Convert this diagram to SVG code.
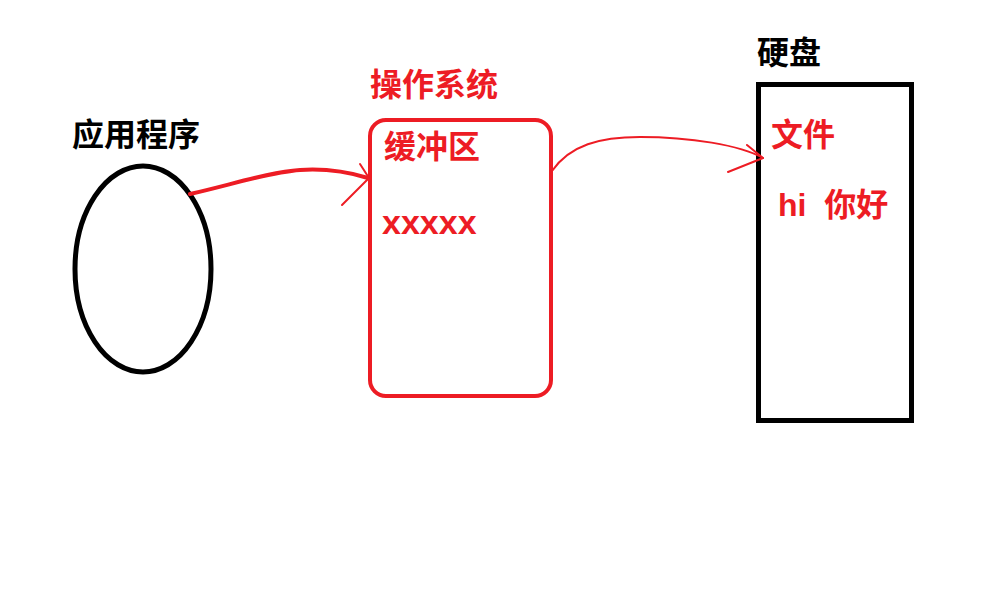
<svg xmlns="http://www.w3.org/2000/svg" width="991" height="604" viewBox="0 0 991 604">
  <style>
    .lbl { font-family: "Liberation Sans", "Noto Sans CJK SC", sans-serif; font-weight: bold; font-size: 32px; }
    .red { fill: #ED1C24; }
    .blk { fill: #000000; }
    .wire { fill: none; stroke: #ED1C24; stroke-linecap: round; stroke-linejoin: round; }
  </style>
  <rect width="991" height="604" fill="#FFFFFF"/>

  <!-- application -->
  <g id="app">
    <text class="lbl blk" x="72" y="146">应用程序</text>
    <ellipse cx="143" cy="269" rx="68" ry="103" fill="none" stroke="#000000" stroke-width="5"/>
  </g>

  <!-- operating system buffer -->
  <g id="os">
    <text class="lbl red" x="370" y="96">操作系统</text>
    <rect x="370" y="120" width="181" height="276" rx="16" ry="16" fill="none" stroke="#ED1C24" stroke-width="4"/>
    <text class="lbl red" x="384" y="158">缓冲区</text>
    <text class="lbl red" x="382" y="234" style="font-size:34px">xxxxx</text>
  </g>

  <!-- disk -->
  <g id="disk">
    <text class="lbl blk" x="757" y="64">硬盘</text>
    <rect x="758.5" y="84.5" width="153" height="336" fill="none" stroke="#000000" stroke-width="5"/>
    <text class="lbl red" x="771" y="146">文件</text>
    <text class="lbl red" x="778" y="216" xml:space="preserve">hi  你好</text>
  </g>

  <!-- connectors -->
  <g id="connectors">
    <path class="wire" stroke-width="4" d="M190,194 C230,185 270,172 300,170 C330,168 355,174 368,178"/>
    <path class="wire" stroke-width="2" d="M360,164 L369,178 L342,205"/>
    <path class="wire" stroke-width="2" d="M552,171 C570,145 600,137 640,137 C690,137 740,145 763,158"/>
    <path class="wire" stroke-width="2" d="M747,145 L763,158 L728,172"/>
  </g>
</svg>
